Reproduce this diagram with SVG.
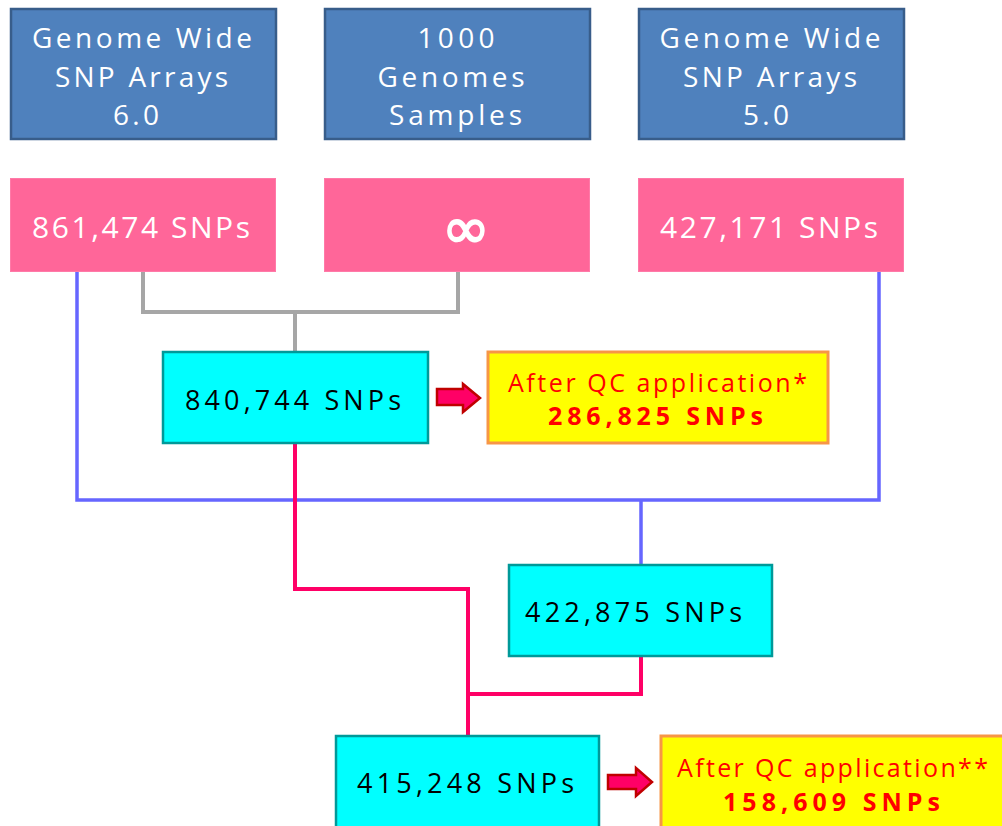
<svg xmlns="http://www.w3.org/2000/svg" width="1002" height="826" viewBox="0 0 1002 826">
<style>
.top{fill:#4F81BD;stroke:#385D8A;stroke-width:2.5}
.pink{fill:#FF6699;stroke:#FF7AA8;stroke-width:1}
.cyan{fill:#00FFFF;stroke:#009999;stroke-width:2.5}
.yel{fill:#FFFF00;stroke:#F79646;stroke-width:3}
.arr{fill:#FF0066;stroke:#C00000;stroke-width:2.5;stroke-linejoin:miter}
text{font-family:"Open Sans","Liberation Sans",sans-serif;text-anchor:middle}
.tw{fill:#FFFFFF;font-size:28px}
.pw{fill:#FFFFFF;font-size:30px}
.ck{fill:#000000;font-size:27px}
.yr{fill:#FF0000;font-size:25px}
.yb{fill:#FF0000;font-size:25px;font-weight:bold}
.gray{fill:none;stroke:#A6A6A6;stroke-width:4}
.blue{fill:none;stroke:#6666FF;stroke-width:3.5}
.red{fill:none;stroke:#FF0066;stroke-width:4}
</style>
<g id="connectors">
<path class="gray" d="M143,272 V312 H458 V272 M295,312 V351"/>
<path class="blue" d="M77,272 V500 H879 V272 M641,500 V565"/>
<path class="red" d="M295,443 V589 H468 V736 M641,656 V694 H468"/>
</g>
<g id="top1">
<rect class="top" x="11" y="9" width="265" height="130"/>
<text class="tw" x="142" y="48" textLength="220" lengthAdjust="spacing">Genome Wide</text>
<text class="tw" x="141.5" y="87" textLength="173" lengthAdjust="spacing">SNP Arrays</text>
<text class="tw" x="136" y="125" textLength="46" lengthAdjust="spacing">6.0</text>
</g>
<g id="top2">
<rect class="top" x="325" y="9" width="265" height="130"/>
<text class="tw" x="456" y="48" textLength="77" lengthAdjust="spacing">1000</text>
<text class="tw" x="451" y="87" textLength="147" lengthAdjust="spacing">Genomes</text>
<text class="tw" x="455.5" y="125" textLength="133" lengthAdjust="spacing">Samples</text>
</g>
<g id="top3">
<rect class="top" x="639" y="9" width="265" height="130"/>
<text class="tw" x="770" y="48" textLength="221" lengthAdjust="spacing">Genome Wide</text>
<text class="tw" x="770" y="87" textLength="174" lengthAdjust="spacing">SNP Arrays</text>
<text class="tw" x="766" y="125" textLength="46" lengthAdjust="spacing">5.0</text>
</g>
<g id="pink1">
<rect class="pink" x="10.5" y="178.5" width="265" height="93"/>
<text class="pw" x="141" y="238" textLength="218" lengthAdjust="spacing">861,474 SNPs</text>
</g>
<g id="pink2">
<rect class="pink" x="324.5" y="178.5" width="265" height="93"/>
<text x="466" y="248" style="fill:#FFFFFF;stroke:#FFFFFF;stroke-width:1.6;font-family:'DejaVu Sans',sans-serif;font-size:58px">∞</text>
</g>
<g id="pink3">
<rect class="pink" x="638.5" y="178.5" width="265" height="93"/>
<text class="pw" x="769" y="238" textLength="218" lengthAdjust="spacing">427,171 SNPs</text>
</g>
<g id="cyan1">
<rect class="cyan" x="163" y="352" width="265" height="91"/>
<text class="ck" x="293" y="410" textLength="216" lengthAdjust="spacing">840,744 SNPs</text>
</g>
<g id="arrow1">
<polygon class="arr" points="437,389 463,389 463,384 480,398 463,412 463,405 437,405"/>
</g>
<g id="qc1">
<rect class="yel" x="488" y="352" width="340" height="91"/>
<text class="yr" x="657.5" y="392" textLength="299" lengthAdjust="spacing">After QC application*</text>
<text class="yb" x="655.5" y="425" textLength="215" lengthAdjust="spacing">286,825 SNPs</text>
</g>
<g id="cyan2">
<rect class="cyan" x="509" y="565" width="263" height="91"/>
<text class="ck" x="633.5" y="622" textLength="217" lengthAdjust="spacing">422,875 SNPs</text>
</g>
<g id="cyan3">
<rect class="cyan" x="336" y="736" width="263" height="96"/>
<text class="ck" x="465.5" y="793" textLength="217" lengthAdjust="spacing">415,248 SNPs</text>
</g>
<g id="arrow2">
<polygon class="arr" points="608,775 636,775 636,768 652,782 636,796 636,789 608,789"/>
</g>
<g id="qc2">
<rect class="yel" x="661" y="736" width="350" height="96"/>
<text class="yr" x="832.5" y="777" textLength="311" lengthAdjust="spacing">After QC application**</text>
<text class="yb" x="831.5" y="811" textLength="217" lengthAdjust="spacing">158,609 SNPs</text>
</g>
</svg>
